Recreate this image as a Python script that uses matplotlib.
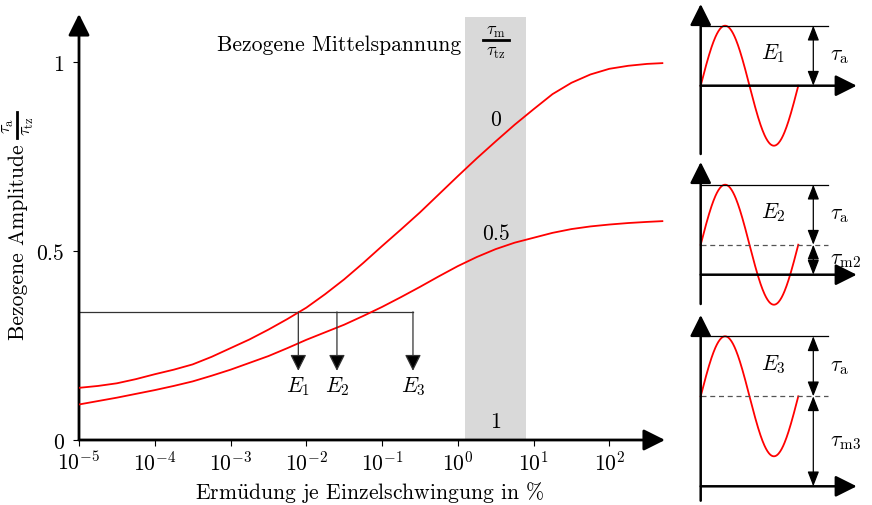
import numpy as np
import matplotlib
matplotlib.use('Agg')
import matplotlib.pyplot as plt
from matplotlib.lines import Line2D
from matplotlib.ticker import FixedLocator, NullLocator

plt.rcParams['font.family'] = ['cmr10', 'DejaVu Serif']
plt.rcParams['mathtext.fontset'] = 'cm'
plt.rcParams['axes.unicode_minus'] = False

# ---------------- data ----------------
log_x = [-5.0, -4.75, -4.5, -4.25, -4.0, -3.75, -3.5, -3.25, -3.0, -2.75,
         -2.5, -2.25, -2.0, -1.75, -1.5, -1.25, -1.0, -0.75, -0.5, -0.25,
         0.0, 0.25, 0.5, 0.75, 1.0, 1.25, 1.5, 1.75, 2.0, 2.25, 2.5, 2.7]
amp_tm0 = [0.138, 0.143, 0.150, 0.161, 0.174, 0.186, 0.200, 0.220, 0.243, 0.266,
           0.292, 0.320, 0.350, 0.386, 0.425, 0.468, 0.513, 0.557, 0.602, 0.650,
           0.698, 0.745, 0.790, 0.834, 0.875, 0.915, 0.945, 0.967, 0.982, 0.990,
           0.995, 0.997]
amp_tm05 = [0.094, 0.103, 0.112, 0.122, 0.132, 0.143, 0.155, 0.170, 0.186, 0.204,
            0.222, 0.243, 0.265, 0.285, 0.305, 0.328, 0.352, 0.378, 0.405, 0.433,
            0.460, 0.484, 0.505, 0.522, 0.535, 0.548, 0.558, 0.565, 0.570, 0.574,
            0.577, 0.579]
xticks = [1e-5, 1e-4, 1e-3, 1e-2, 1e-1, 1e0, 1e1, 1e2]
yticks = [0, 0.5, 1]
ytick_labels = ['0', '0.5', '1']
band = (1.26, 8.0)
band_labels = ['0', '0.5', '1']
band_label_y = [0.849, 0.548, 0.05]
e_level = 0.339
e_tip = 0.183
e_x = [0.00785, 0.0254, 0.256]
e_names = [r'$E_1$', r'$E_2$', r'$E_3$']
inset_means = [0.0, 0.5, 1.5]
inset_tm_labels = [None, r'$\tau_{\mathrm{m2}}$', r'$\tau_{\mathrm{m3}}$']

W, H = 872, 506
fig = plt.figure(figsize=(W / 100, H / 100), dpi=100)
FS = 15.6
FS_FRAC = 13


def fx(px):
    return px / W


def fy(py):
    return 1 - py / H


# ---------------- main axes ----------------
ppd = 75.76
x_left, x_right = 79, 665
y_zero, y_top = 441, 15
ppu = 378.0
ax = fig.add_axes([fx(x_left), fy(y_zero), (x_right - x_left) / W, (y_zero - y_top) / H])
ax.set_xscale('log')
ax.set_xlim(1e-5, 10 ** (-5 + (x_right - x_left) / ppd))
ax.set_ylim(0, (y_zero - y_top) / ppu)
for s in ax.spines.values():
    s.set_visible(False)
ax.patch.set_alpha(0)

ax.xaxis.set_major_locator(FixedLocator(xticks))
ax.xaxis.set_minor_locator(NullLocator())
ax.set_yticks(yticks)
ax.set_yticklabels(ytick_labels)
ax.tick_params(direction='out', length=4, width=0.8, labelsize=FS)
ax.tick_params(axis='x', pad=2.5)
ax.tick_params(axis='y', pad=7)

# axis arrows
arrow_kw = dict(arrowstyle='-|>,head_length=1.0,head_width=0.5', lw=2.0, color='k',
                shrinkA=0, shrinkB=0, mutation_scale=13)
ax.annotate('', xy=(1, 0), xycoords='axes fraction', xytext=(0, 0),
            textcoords='axes fraction', arrowprops=arrow_kw)
ax.annotate('', xy=(0, 1), xycoords='axes fraction', xytext=(0, 0),
            textcoords='axes fraction', arrowprops=arrow_kw)

# band
ax.axvspan(band[0], band[1], ymin=0, ymax=(y_zero - 18) / (y_zero - y_top),
           color='#d9d9d9', lw=0, zorder=0)
bc = np.sqrt(band[0] * band[1])
for lab, yy in zip(band_labels, band_label_y):
    ax.text(bc, yy, lab, ha='center', va='center', fontsize=FS)

# curves
xs = [10 ** v for v in log_x]
ax.plot(xs, amp_tm0, color='#ff0000', lw=1.3, zorder=3)
ax.plot(xs, amp_tm05, color='#ff0000', lw=1.3, zorder=3)

# E lines
ax.plot([1e-5, e_x[-1]], [e_level, e_level], color='#333333', lw=0.9, zorder=2)
for xe, nm in zip(e_x, e_names):
    ax.annotate('', xy=(xe, e_tip), xytext=(xe, e_level),
                arrowprops=dict(arrowstyle='-|>,head_length=1.0,head_width=0.5',
                                lw=0.9, color='#333333', fc='k', shrinkA=0, shrinkB=0,
                                mutation_scale=10))
    ax.text(xe, e_tip - 0.008, nm, ha='center', va='top', fontsize=FS)

# header text with fraction
fig.text(fx(217), fy(45), 'Bezogene Mittelspannung', ha='left', va='center', fontsize=FS)
fig.text(fx(496), fy(32), r'$\tau_\mathrm{m}$', ha='center', va='center', fontsize=FS_FRAC)
fig.text(fx(496), fy(53), r'$\tau_\mathrm{tz}$', ha='center', va='center', fontsize=FS_FRAC)
fig.add_artist(Line2D([fx(483), fx(509)], [fy(41), fy(41)], color='k', lw=2.0,
                      transform=fig.transFigure))

# y label with fraction
fig.text(fx(18), fy(340), 'Bezogene Amplitude', rotation=90, ha='center', va='bottom',
         fontsize=FS)
fig.text(fx(8), fy(126), r'$\tau_\mathrm{a}$', rotation=90, ha='center', va='center',
         fontsize=FS_FRAC)
fig.text(fx(28), fy(126), r'$\tau_\mathrm{tz}$', rotation=90, ha='center', va='center',
         fontsize=FS_FRAC)
fig.add_artist(Line2D([fx(17), fx(17)], [fy(113), fy(139)], color='k', lw=2.0,
                      transform=fig.transFigure))

fig.text(fx(370), fy(493), r'Erm$\mathrm{\ddot{u}}$dung je Einzelschwingung in %',
         ha='center', va='center', fontsize=FS)

# ---------------- insets ----------------
per_px = 97.6
amp_px = 60.0
x0_px = 700.7
inset_px = [(0, 160, 86.7, 5), (160, 310, 275.7, 163), (310, 506, 487.3, 316)]
inset_bottom_px = [155, 305, 501.7]
inset_names = [r'$E_1$', r'$E_2$', r'$E_3$']
for i, ((top, bot, base, tip), mean) in enumerate(zip(inset_px, inset_means)):
    iax = fig.add_axes([fx(690), fy(bot), (W - 690) / W, (bot - top) / H])
    iax.set_xlim((690 - x0_px) / per_px, (W - x0_px) / per_px)
    iax.set_ylim((base - bot) / amp_px, (base - top) / amp_px)
    iax.axis('off')
    iax.patch.set_alpha(0)
    y_tip = (base - tip) / amp_px
    y_bottom = (base - inset_bottom_px[i]) / amp_px
    x_tip = (856.7 - x0_px) / per_px
    akw = dict(arrowstyle='-|>,head_length=1.0,head_width=0.5', lw=1.8, color='k',
               shrinkA=0, shrinkB=0, mutation_scale=13)
    iax.annotate('', xy=(0, y_tip), xytext=(0, y_bottom), arrowprops=akw)
    iax.annotate('', xy=(x_tip, 0), xytext=(0, 0), arrowprops=akw)
    t = np.linspace(0, 1, 200)
    iax.plot(t, mean + np.sin(2 * np.pi * t), color='#ff0000', lw=1.3)
    x_end = (828 - x0_px) / per_px
    iax.plot([0, x_end], [mean + 1, mean + 1], color='k', lw=0.9)
    if mean > 0:
        iax.plot([0, x_end], [mean, mean], color='#555555', lw=0.9, ls=(0, (4, 3)))
    xa = (813.3 - x0_px) / per_px
    dkw = dict(arrowstyle='<|-|>,head_length=0.9,head_width=0.35', lw=0.9, color='k',
               shrinkA=0, shrinkB=0, mutation_scale=10)
    iax.annotate('', xy=(xa, mean + 1), xytext=(xa, mean), arrowprops=dkw)
    xl = (839 - x0_px) / per_px
    iax.text(xl, mean + 0.5, r'$\tau_\mathrm{a}$', ha='center', va='center', fontsize=FS)
    if mean > 0:
        iax.annotate('', xy=(xa, mean), xytext=(xa, 0), arrowprops=dkw)
        iax.text((845 - x0_px) / per_px, mean / 2, inset_tm_labels[i], ha='center',
                 va='center', fontsize=FS)
    iax.text((773 - x0_px) / per_px, mean + 0.55, inset_names[i], ha='center',
             va='center', fontsize=FS)

fig.savefig('out.png', dpi=100)
